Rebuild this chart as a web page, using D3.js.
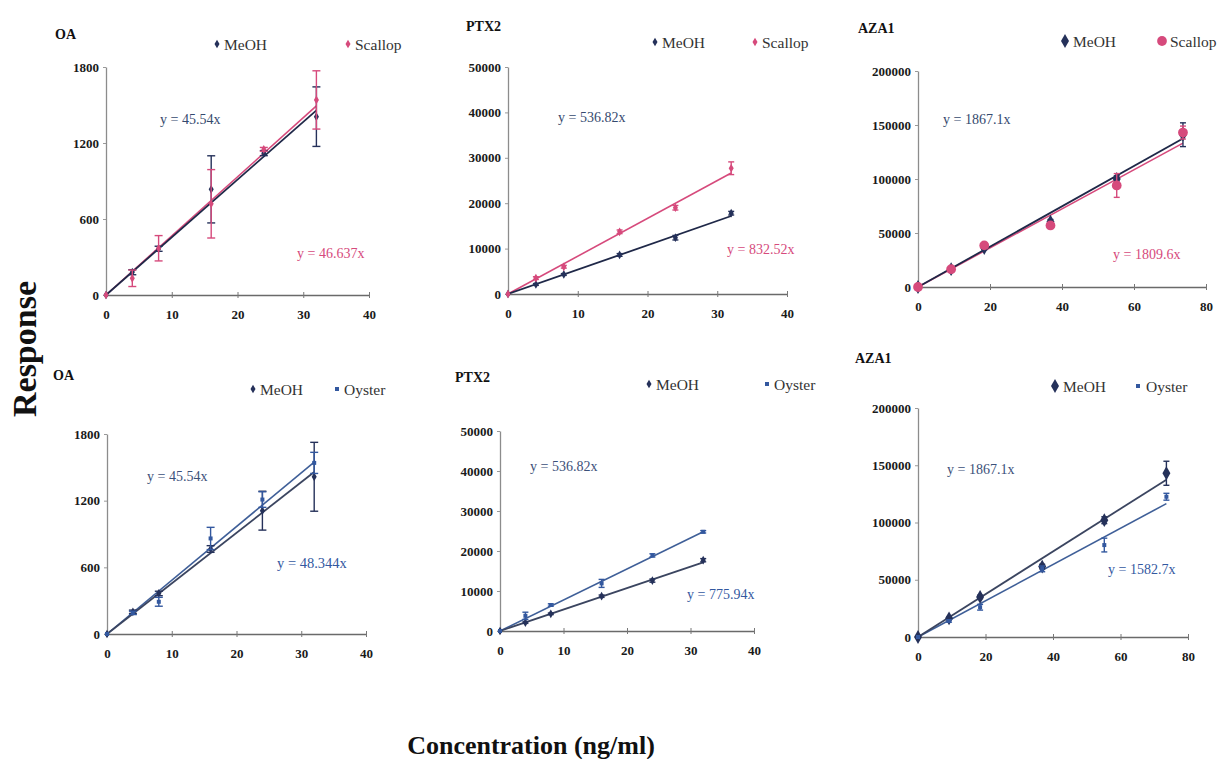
<!DOCTYPE html>
<html>
<head>
<meta charset="utf-8">
<script src="https://cdn.jsdelivr.net/npm/d3@7/dist/d3.min.js"></script>
<style>
  body { margin: 0; background: #fff; }
  svg text { font-family: "Liberation Serif", "DejaVu Serif", serif; }
</style>
</head>
<body>
<div id="chart"></div>
<script>
// Calibration curves, matrix vs MeOH.

// concentrations (ng/ml)
const concOA = [0, 4, 8, 16, 24, 32];
const concPTX2 = [0, 4, 8, 16, 24, 32];
const concAZA1 = [0, 9.2, 18.4, 36.8, 55.2, 73.6];

// top row: MeOH vs Scallop
const oaMeohA = [0, 180, 365, 834, 1120, 1408];
const oaMeohAErr = [0, 20, 20, 265, 20, 235];
const oaScallop = [0, 132, 369, 720, 1150, 1540];
const oaScallopErr = [0, 65, 100, 270, 15, 230];

const ptxMeohA = [0, 2100, 4300, 8600, 12400, 17800];
const ptxMeohAErr = [0, 200, 200, 300, 500, 400];
const ptxScallop = [0, 3500, 6000, 13700, 19000, 27700];
const ptxScallopErr = [0, 300, 300, 400, 500, 1400];

const azaMeohA = [0, 16500, 36000, 60500, 100000, 141000];
const azaMeohAErr = [0, 1000, 1500, 2000, 3000, 11000];
const azaScallop = [0, 16500, 38500, 57000, 94000, 143000];
const azaScallopErr = [0, 1000, 2000, 2500, 11000, 6000];

// bottom row: MeOH vs Oyster
const oaMeohB = [0, 200, 365, 765, 1110, 1415];
const oaMeohBErr = [0, 15, 20, 30, 175, 310];
const oaOyster = [0, 190, 290, 860, 1210, 1540];
const oaOysterErr = [0, 15, 40, 100, 70, 95];

const ptxMeohB = [0, 2100, 4300, 8700, 12600, 17700];
const ptxMeohBErr = [0, 200, 200, 300, 400, 400];
const ptxOyster = [0, 3800, 6500, 11900, 18900, 24800];
const ptxOysterErr = [0, 900, 300, 1000, 400, 300];

const azaMeohB = [0, 16300, 35000, 61500, 102000, 143000];
const azaMeohBErr = [0, 1000, 1500, 2000, 3000, 10500];
const azaOyster = [0, 14000, 26000, 59500, 80300, 122500];
const azaOysterErr = [0, 1000, 2500, 2500, 6000, 3000];

// fitted slopes (forced through zero)
const slopesTop = [45.54, 46.637, 536.82, 832.52, 1867.1, 1809.6];
const slopesBottom = [45.54, 48.344, 536.82, 775.94, 1867.1, 1582.7];

// axis ticks
const ticksOAx = [0, 10, 20, 30, 40];
const ticksOAy = [0, 600, 1200, 1800];
const ticksPTXx = [0, 10, 20, 30, 40];
const ticksPTXy = [0, 10000, 20000, 30000, 40000, 50000];
const ticksAZAx = [0, 20, 40, 60, 80];
const ticksAZAy = [0, 50000, 100000, 150000, 200000];

const navy = "#25315a";
const pink = "#d64a7c";
const blue = "#33589f";

const W = 1220, H = 759;
const svg = d3.select("#chart").append("svg")
    .attr("width", W)
    .attr("height", H);

const fmtEq = s => "y = " + s + "x";

// one entry per panel; layout lives here, values come from the arrays above
const panels = [
    {title: "OA", tx: 55, ty: 39, xr: [106, 369], yr: [295, 67], xMax: 40, yMax: 1800,
     xt: ticksOAx, yt: ticksOAy, conc: concOA, sample: "Scallop",
     meoh: oaMeohA, meohErr: oaMeohAErr, smp: oaScallop, smpErr: oaScallopErr,
     slopes: [slopesTop[0], slopesTop[1]], smpColor: pink, cap: 8, big: false,
     legend: [217, 45, 348], eq: [[160, 124], [297, 258]], eqSans: false},
    {title: "PTX2", tx: 466, ty: 31, xr: [508, 787], yr: [294, 67], xMax: 40, yMax: 50000,
     xt: ticksPTXx, yt: ticksPTXy, conc: concPTX2, sample: "Scallop",
     meoh: ptxMeohA, meohErr: ptxMeohAErr, smp: ptxScallop, smpErr: ptxScallopErr,
     slopes: [slopesTop[2], slopesTop[3]], smpColor: pink, cap: 6, big: false,
     legend: [655, 43, 755], eq: [[558, 122], [727, 254]], eqSans: false},
    {title: "AZA1", tx: 858, ty: 33, xr: [918, 1206], yr: [287, 71], xMax: 80, yMax: 200000,
     xt: ticksAZAx, yt: ticksAZAy, conc: concAZA1, sample: "Scallop",
     meoh: azaMeohA, meohErr: azaMeohAErr, smp: azaScallop, smpErr: azaScallopErr,
     slopes: [slopesTop[4], slopesTop[5]], smpColor: pink, cap: 6, big: true,
     legend: [1065, 42, 1162], eq: [[943, 124], [1113, 259]], eqSans: false},
    {title: "OA", tx: 53, ty: 380, xr: [107, 366], yr: [634, 434], xMax: 40, yMax: 1800,
     xt: ticksOAx, yt: ticksOAy, conc: concOA, sample: "Oyster",
     meoh: oaMeohB, meohErr: oaMeohBErr, smp: oaOyster, smpErr: oaOysterErr,
     slopes: [slopesBottom[0], slopesBottom[1]], smpColor: blue, cap: 8, big: false,
     legend: [253, 390, 337], eq: [[147, 481], [277, 568]], eqSans: true},
    {title: "PTX2", tx: 455, ty: 382, xr: [500, 754], yr: [631, 431], xMax: 40, yMax: 50000,
     xt: ticksPTXx, yt: ticksPTXy, conc: concPTX2, sample: "Oyster",
     meoh: ptxMeohB, meohErr: ptxMeohBErr, smp: ptxOyster, smpErr: ptxOysterErr,
     slopes: [slopesBottom[2], slopesBottom[3]], smpColor: blue, cap: 6, big: false,
     legend: [649, 385, 767], eq: [[530, 471], [687, 599]], eqSans: false},
    {title: "AZA1", tx: 855, ty: 363, xr: [918, 1188], yr: [637, 408], xMax: 80, yMax: 200000,
     xt: ticksAZAx, yt: ticksAZAy, conc: concAZA1, sample: "Oyster",
     meoh: azaMeohB, meohErr: azaMeohBErr, smp: azaOyster, smpErr: azaOysterErr,
     slopes: [slopesBottom[4], slopesBottom[5]], smpColor: blue, cap: 6, big: true,
     legend: [1055, 387, 1138], eq: [[947, 474], [1108, 574]], eqSans: false}
];

panels.forEach(p => drawPanel(p));

function markerFor(p, which) {
    // MeOH: diamonds; Scallop: diamond / round dot; Oyster: small square
    if (which === "meoh") return d3.symbol().type(d3.symbolDiamond).size(p.big ? 55 : 22)();
    if (p.sample === "Scallop") {
        return p.big ? d3.symbol().type(d3.symbolCircle).size(75)()
                     : d3.symbol().type(d3.symbolDiamond).size(22)();
    }
    return d3.symbol().type(d3.symbolSquare).size(16)();
}

function drawPanel(p) {
    const g = svg.append("g");

    const x = d3.scaleLinear().domain([0, p.xMax]).range(p.xr);
    const y = d3.scaleLinear().domain([0, p.yMax]).range(p.yr);

    // title
    g.append("text")
        .attr("x", p.tx).attr("y", p.ty)
        .attr("font-size", 14).attr("font-weight", "bold")
        .attr("fill", "#111")
        .text(p.title);

    // x axis
    const xAxis = g.append("g")
        .attr("transform", `translate(0,${p.yr[0]})`)
        .call(d3.axisBottom(x).tickValues(p.xt).tickSizeInner(3).tickSizeOuter(0).tickPadding(12));
    xAxis.select(".domain").attr("stroke", "#6a6a6a").attr("stroke-width", 1.5);
    xAxis.selectAll(".tick line").attr("stroke", "#777").attr("y1", -3).attr("y2", 3);
    xAxis.selectAll(".tick text")
        .attr("font-family", "Liberation Serif").attr("font-size", 13)
        .attr("font-weight", "bold").attr("fill", "#1a1a1a");

    // y axis
    const yAxis = g.append("g")
        .attr("transform", `translate(${p.xr[0]},0)`)
        .call(d3.axisLeft(y).tickValues(p.yt).tickSizeInner(3).tickSizeOuter(0).tickPadding(4)
            .tickFormat(d3.format("d")));
    yAxis.select(".domain").attr("stroke", "#8c8c8c").attr("stroke-width", 1.3);
    yAxis.selectAll(".tick line").attr("stroke", "#999");
    yAxis.selectAll(".tick text")
        .attr("font-family", "Liberation Serif").attr("font-size", 13)
        .attr("font-weight", "bold").attr("fill", "#1a1a1a");

    const lastX = p.conc[p.conc.length - 1];
    const line = d3.line().x(d => x(d[0])).y(d => y(d[1]));

    // trend lines: sample first, MeOH on top
    const lineDefs = [
        {slope: p.slopes[1], color: p.sample === "Scallop" ? pink : "#3f5f98", w: 1.6},
        {slope: p.slopes[0], color: p.sample === "Scallop" ? "#1f2848" : "#3b4560", w: 1.8}
    ];
    lineDefs.forEach(l => {
        g.append("path")
            .datum([[0, 0], [lastX, l.slope * lastX]])
            .attr("fill", "none")
            .attr("stroke", l.color)
            .attr("stroke-width", l.w)
            .attr("d", line);
    });

    const series = [
        {vals: p.meoh, err: p.meohErr, color: navy, kind: "meoh"},
        {vals: p.smp, err: p.smpErr, color: p.smpColor, kind: "smp"}
    ];

    series.forEach(s => {
        const pts = p.conc.map((c, i) => ({c, v: s.vals[i], e: s.err[i]}));
        const eb = g.append("g").attr("stroke", s.color).attr("stroke-width", 1.4);
        pts.filter(d => d.e > 0).forEach(d => {
            const cx = x(d.c);
            eb.append("line").attr("x1", cx).attr("x2", cx)
                .attr("y1", y(d.v - d.e)).attr("y2", y(d.v + d.e));
            [d.v - d.e, d.v + d.e].forEach(v => {
                eb.append("line")
                    .attr("x1", cx - p.cap / 2).attr("x2", cx + p.cap / 2)
                    .attr("y1", y(v)).attr("y2", y(v));
            });
        });
        g.selectAll(null)
            .data(pts)
            .enter()
            .append("path")
            .attr("d", markerFor(p, s.kind))
            .attr("transform", d => `translate(${x(d.c)},${y(d.v)})`)
            .attr("fill", s.color);
    });

    // legend
    const [lx, ly, lx2] = p.legend;
    const leg = [
        {x: lx, label: "MeOH", color: navy, kind: "meoh"},
        {x: lx2, label: p.sample, color: p.smpColor, kind: "smp"}
    ];
    leg.forEach(l => {
        g.append("path")
            .attr("d", markerFor(p, l.kind))
            .attr("transform", `translate(${l.x},${ly - 1})`)
            .attr("fill", l.color);
        g.append("text")
            .attr("x", l.x + (p.big ? 8 : 7)).attr("y", ly + 5)
            .attr("font-size", 15.5)
            .attr("fill", "#333")
            .text(l.label);
    });

    // equations
    const eqColors = [p.sample === "Scallop" ? "#34496e" : "#3b5079", p.sample === "Scallop" ? pink : blue];
    p.eq.forEach((pos, i) => {
        const t = g.append("text")
            .attr("x", pos[0]).attr("y", pos[1])
            .attr("font-size", 14)
            .attr("fill", eqColors[i])
            .text(fmtEq(p.slopes[i]));
        if (i === 1 && p.eqSans) {
            t.attr("font-family", "Liberation Sans").attr("font-size", 14.5);
        }
    });
}

// shared axis titles
svg.append("text")
    .attr("transform", "translate(36,349) rotate(-90)")
    .attr("text-anchor", "middle")
    .attr("font-size", 34)
    .attr("font-weight", "bold")
    .attr("fill", "#111")
    .text("Response");

svg.append("text")
    .attr("x", 531).attr("y", 754)
    .attr("text-anchor", "middle")
    .attr("font-size", 26)
    .attr("font-weight", "bold")
    .attr("fill", "#111")
    .text("Concentration (ng/ml)");
</script>
</body>
</html>
